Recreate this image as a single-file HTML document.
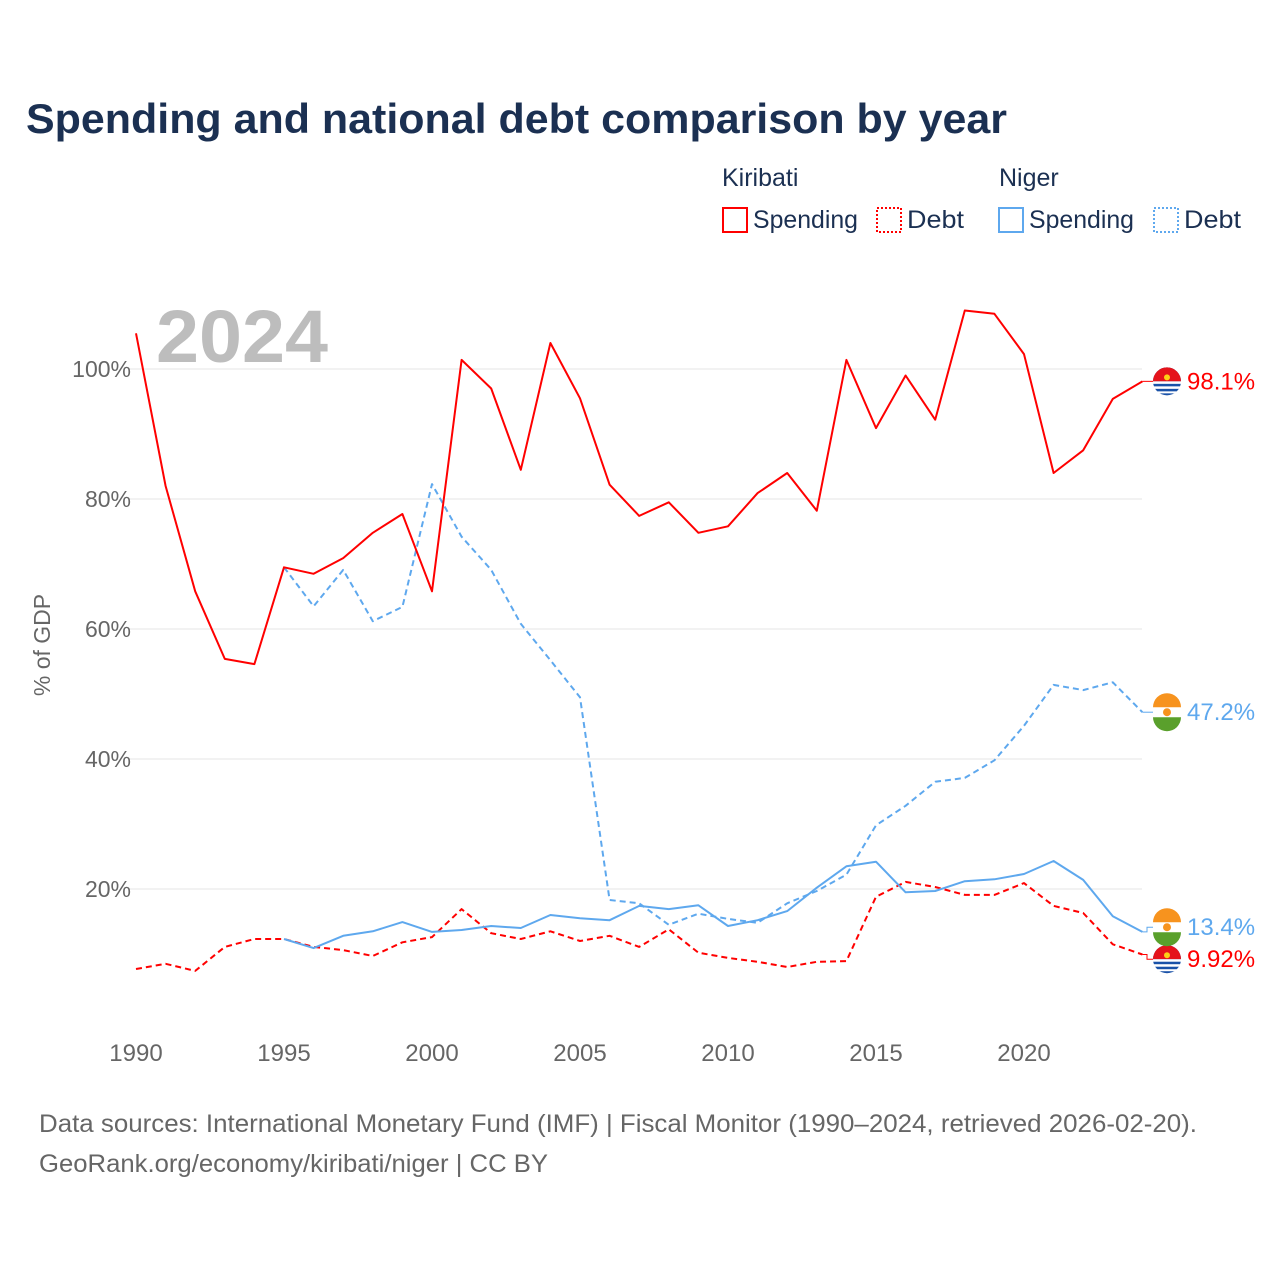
<!DOCTYPE html>
<html><head><meta charset="utf-8"><style>
body{margin:0;background:#fff;font-family:"Liberation Sans",sans-serif}
</style></head><body>
<svg width="1280" height="1280" xmlns="http://www.w3.org/2000/svg" font-family="Liberation Sans, sans-serif">
<rect width="1280" height="1280" fill="#fff"/>
<text x="26" y="133" font-size="42" font-weight="bold" fill="#1b3052" textLength="981" lengthAdjust="spacingAndGlyphs">Spending and national debt comparison by year</text>
<g font-size="25" fill="#1b3052">
<text x="722" y="186">Kiribati</text><text x="999" y="186">Niger</text>
<g><rect x="723" y="208" width="24" height="24" fill="none" stroke="#f00" stroke-width="2"/><text x="753" y="228" textLength="105" lengthAdjust="spacingAndGlyphs">Spending</text></g>
<g><rect x="877" y="208" width="24" height="24" fill="none" stroke="#f00" stroke-width="2" stroke-dasharray="2,2"/><text x="907" y="228" textLength="57" lengthAdjust="spacingAndGlyphs">Debt</text></g>
<g><rect x="999" y="208" width="24" height="24" fill="none" stroke="#5ea8ee" stroke-width="2"/><text x="1029" y="228" textLength="105" lengthAdjust="spacingAndGlyphs">Spending</text></g>
<g><rect x="1154" y="208" width="24" height="24" fill="none" stroke="#5ea8ee" stroke-width="2" stroke-dasharray="2,2"/><text x="1184" y="228" textLength="57" lengthAdjust="spacingAndGlyphs">Debt</text></g>
</g>
<text x="156" y="362" font-size="74" font-weight="bold" fill="#bdbdbd" textLength="172" lengthAdjust="spacingAndGlyphs">2024</text>
<text transform="translate(50,645) rotate(-90)" text-anchor="middle" font-size="23" fill="#666">% of GDP</text>
<g id="grid"></g><g id="series"></g><g id="ends"></g>
<g font-size="25" fill="#666">
<text x="39" y="1132" textLength="1158" lengthAdjust="spacingAndGlyphs">Data sources: International Monetary Fund (IMF) | Fiscal Monitor (1990–2024, retrieved 2026-02-20).</text>
<text x="39" y="1172" textLength="509" lengthAdjust="spacingAndGlyphs">GeoRank.org/economy/kiribati/niger | CC BY</text>
</g>
</svg>
<script>
const years=[];for(let y=1990;y<=2024;y++)years.push(y);
const yTicks=[20,40,60,80,100];
const xTicks=[1990,1995,2000,2005,2010,2015,2020];
const kiribatiSpending=[105.5,82,65.8,55.4,54.6,69.5,68.5,70.9,74.8,77.7,65.8,101.4,97,84.5,104,95.5,82.2,77.4,79.5,74.8,75.8,80.9,84,78.2,101.4,90.9,99,92.2,109,108.5,102.3,84,87.5,95.4,98.1];
const kiribatiDebt=[7.7,8.5,7.4,11.1,12.3,12.3,11.1,10.6,9.7,11.8,12.6,16.9,13.2,12.3,13.5,12,12.8,11.1,13.8,10.2,9.4,8.8,8,8.8,8.9,18.8,21.1,20.3,19.1,19.1,20.9,17.4,16.3,11.5,9.92];
const nigerSpending=[null,null,null,null,null,12.3,10.9,12.8,13.5,14.9,13.4,13.7,14.3,14,16,15.5,15.2,17.4,16.9,17.5,14.3,15.2,16.6,20.2,23.5,24.2,19.5,19.7,21.2,21.5,22.3,24.3,21.4,15.8,13.4];
const nigerDebt=[null,null,null,null,null,69.5,63.5,69.1,61.2,63.4,82.3,74.2,69.1,60.8,55.2,49.5,18.3,17.8,14.5,16.2,15.4,14.8,17.8,19.7,22.2,29.8,32.8,36.5,37.1,39.8,45.1,51.4,50.6,51.8,47.2];
const endLabels=["98.1%","9.92%","13.4%","47.2%"];
const X=y=>136+(y-1990)*29.6, Y=v=>1019-v*6.5;
const NS="http://www.w3.org/2000/svg";
function mk(t,a,p){const e=document.createElementNS(NS,t);for(const k in a)e.setAttribute(k,a[k]);p.appendChild(e);return e;}
const grid=document.getElementById('grid');
yTicks.forEach(v=>{
 const l=mk('line',{x1:128,x2:1142,y1:Y(v),y2:Y(v),stroke:'#e6e6e6','stroke-width':1},grid);
 
 
 const t=mk('text',{x:131,y:Y(v)+8,'text-anchor':'end','font-size':23,fill:'#666'},grid);t.textContent=v+'%';
 
 
});
xTicks.forEach(v=>{
 const t=mk('text',{x:X(v),y:1061,'text-anchor':'middle','font-size':24,fill:'#666'},grid);t.textContent=v;
 
 
});
const ser=document.getElementById('series');
function line(vals,color,dash,name){
 let d='';vals.forEach((v,i)=>{if(v==null)return;d+=(d?'L':'M')+X(years[i]).toFixed(1)+','+Y(v).toFixed(1);});
 const p=mk('path',{d:d,fill:'none',stroke:color,'stroke-width':2,'stroke-dasharray':dash||'none','stroke-linejoin':'round'},ser);
 
 
}
line(kiribatiDebt,'#f00','6,4','kiribati-debt-line');
line(nigerSpending,'#5ea8ee','','niger-spending-line');
line(nigerDebt,'#5ea8ee','6,4','niger-debt-line');
line(kiribatiSpending,'#f00','','kiribati-spending-line');
const ends=document.getElementById('ends');
const endVals=[kiribatiSpending[34],kiribatiDebt[34],nigerSpending[34],nigerDebt[34]];
const endCols=['#f00','#f00','#5ea8ee','#5ea8ee'];
const flags=['ki','ki','ne','ne'];
let ys=endVals.map(Y);
if(Math.abs(ys[1]-ys[2])<32){const m=(ys[1]+ys[2])/2;ys[2]=m-16;ys[1]=m+16;}
endVals.forEach((v,i)=>{
 const g=mk('g',{},ends);
 
 
 mk('path',{d:`M${X(2024)},${Y(v)}H1147V${ys[i]}H1153`,fill:'none',stroke:endCols[i],'stroke-width':1},g);
 const cy=ys[i];
 if(flags[i]=='ki'){
  mk('circle',{cx:1167,cy:cy,r:14,fill:'#1a52a8'},g);
  mk('path',{d:`M1153,${cy}A14,14 0 0 1 1181,${cy}Z`,fill:'#e5131b'},g);
  mk('rect',{x:1153,y:cy,width:28,height:2.5,fill:'#fff'},g);
  mk('rect',{x:1153,y:cy+5,width:28,height:2.5,fill:'#fff'},g);
  mk('rect',{x:1155,y:cy+10,width:24,height:2,fill:'#fff'},g);
  mk('circle',{cx:1167,cy:cy-4,r:3,fill:'#fcd116'},g);
 }else{
  mk('circle',{cx:1167,cy:cy,r:14,fill:'#fff'},g);
  mk('path',{d:`M1153,${cy-5}A14,14 0 0 1 1181,${cy-5}Z`,fill:'#f7931e'},g);
  mk('path',{d:`M1153,${cy+5}A14,14 0 0 0 1181,${cy+5}Z`,fill:'#5aa02c'},g);
  mk('circle',{cx:1167,cy:cy,r:4,fill:'#f7931e'},g);
 }
 const t=mk('text',{x:1187,y:cy+8,'font-size':24,fill:endCols[i]},g);t.textContent=endLabels[i];
});
</script>
</body></html>
